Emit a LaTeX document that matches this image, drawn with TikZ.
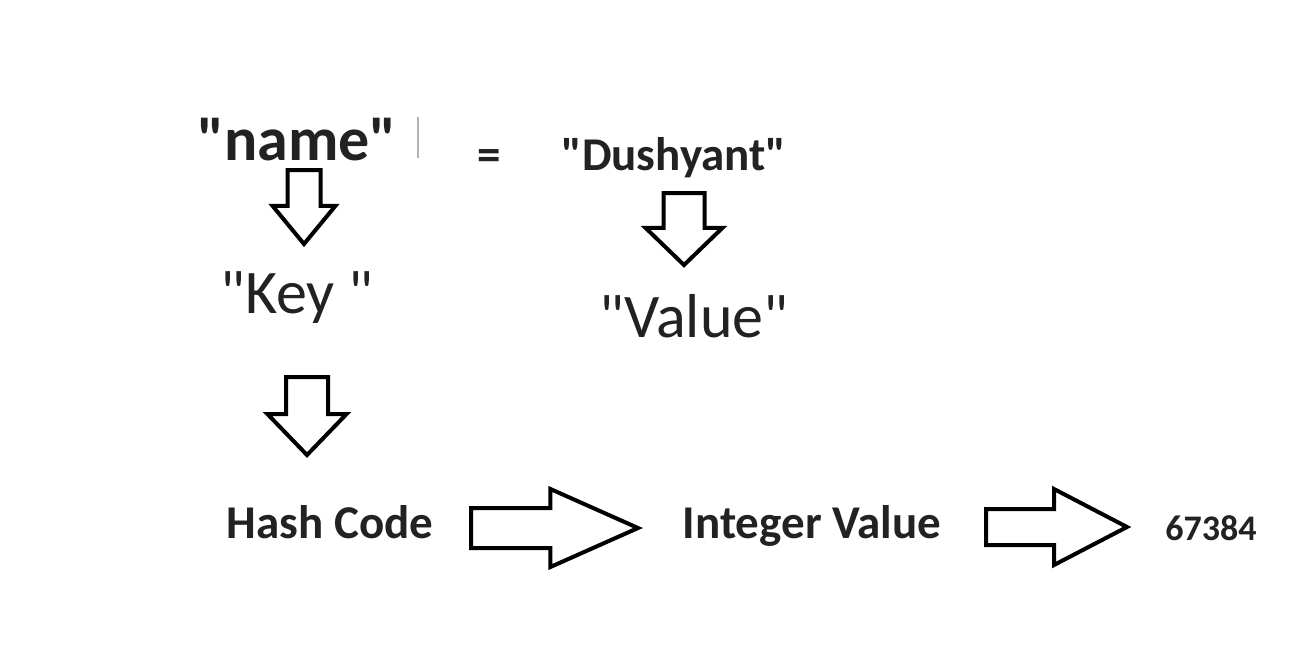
\documentclass[tikz,border=0pt]{standalone}
\usepackage{fontspec}
\setmainfont{Carlito}
\usetikzlibrary{shapes.arrows}
\definecolor{ink}{HTML}{222222}
\newcommand{\qt}[1]{\textquotedbl#1\textquotedbl}

\begin{document}
\begin{tikzpicture}[
      x=1pt,y=-1pt,
      word/.style={inner sep=0,anchor=base,text=ink},
      big/.style={word,font=\fontsize{62}{70}\selectfont},
      mid/.style={word,font=\fontsize{47}{54}\selectfont\bfseries},
      blk/.style={single arrow,draw,line width=4pt,fill=white,inner xsep=0,anchor=tail}
    ]
    \useasboundingbox[fill=white] (0,0) rectangle (1303,650);
    % top line
    \node[big,font=\fontsize{62}{70}\selectfont\bfseries] (name) at (297,160) {\qt{name}};
    \draw[gray!60,line width=1.5pt] (418,117) -- (418,158);
    \node[mid] (eq) at (489,170) {=};
    \node[mid] (val) at (674,170) {\qt{Dushyant}};
    \node[big] (key) at (297,313) {\qt{Key }};
    \node[big] (value) at (694,337) {\qt{Value}};
    \node[mid] (hash) at (330,538) {Hash Code};
    \node[mid] (int) at (812,538) {Integer Value};
    \node[word,font=\fontsize{36}{42}\selectfont\bfseries] (num) at (1211,540) {67384};
    % block arrows
    \node[blk,rotate=-90,minimum height=74pt,inner ysep=14.5pt,single arrow head extend=15pt,single arrow tip angle=79] (a1) at (304,168) {};
    \node[blk,rotate=-90,minimum height=72pt,inner ysep=18.5pt,single arrow head extend=18pt,single arrow tip angle=92] (a2) at (684,191) {};
    \node[blk,rotate=-90,minimum height=78pt,inner ysep=19pt,single arrow head extend=18.5pt,single arrow tip angle=88] (a3) at (307,375) {};
    \node[blk,minimum height=167pt,inner ysep=18pt,single arrow head extend=19pt,single arrow tip angle=48] (a4) at (469,528) {};
    \node[blk,minimum height=141pt,inner ysep=16pt,single arrow head extend=20pt,single arrow tip angle=55] (a5) at (984,527) {};
  \end{tikzpicture}
\end{document}
